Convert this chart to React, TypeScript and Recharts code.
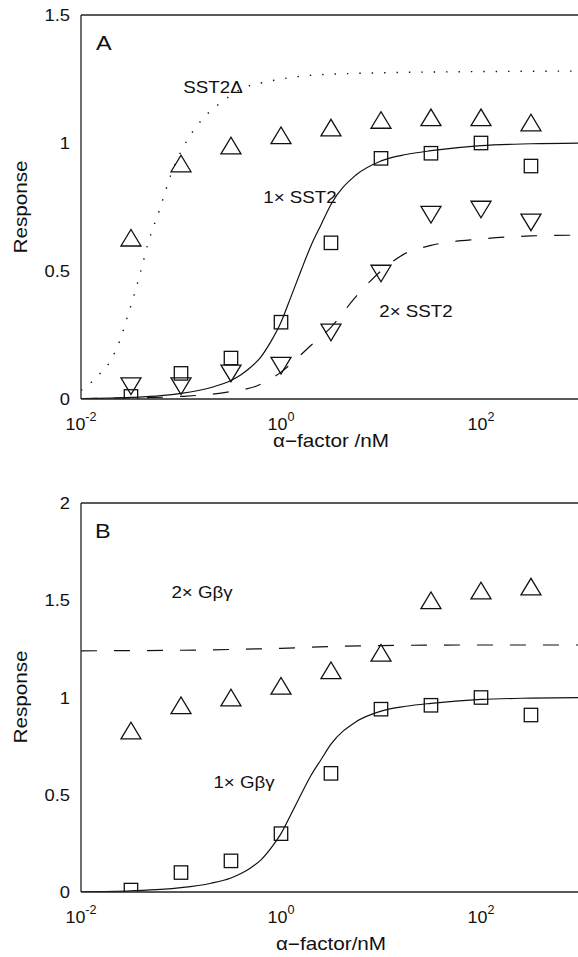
import React from 'react';
import { ComposedChart, Line, Scatter, XAxis, YAxis, Label } from 'recharts';

const FONT = "'Liberation Sans', Arial, Helvetica, sans-serif";
const INK = '#111';

// doses (nM) where responses were measured: 10^-1.5 ... 10^2.5
const doses = [0.0316, 0.1, 0.316, 1, 3.16, 10, 31.6, 100, 316];

// panel A markers
const sst2DeltaResp = [0.63, 0.92, 0.99, 1.03, 1.06, 1.09, 1.1, 1.1, 1.08];
const oneXSst2Resp = [0.01, 0.1, 0.16, 0.3, 0.61, 0.94, 0.96, 1.0, 0.91];
const twoXSst2Resp = [0.05, 0.05, 0.1, 0.13, 0.26, 0.49, 0.72, 0.74, 0.69];

// panel B markers
const oneXGbgResp = [0.01, 0.1, 0.16, 0.3, 0.61, 0.94, 0.96, 1.0, 0.91];
const twoXGbgResp = [0.83, 0.96, 1.0, 1.06, 1.14, 1.23, 1.5, 1.55, 1.57];

// fitted curves
const deltaFitX = [0.01, 0.011, 0.0138, 0.0195, 0.0245, 0.0295, 0.0347, 0.0407, 0.0468, 0.0617, 0.0813, 0.115, 0.166, 0.257, 0.417, 0.741, 1.32, 2.29, 10, 100, 1000];
const deltaFitY = [0.035, 0.042, 0.081, 0.146, 0.23, 0.328, 0.419, 0.517, 0.608, 0.745, 0.888, 1.01, 1.096, 1.161, 1.214, 1.24, 1.257, 1.266, 1.274, 1.279, 1.281];

const oneXFitX = [0.01, 0.0316, 0.0631, 0.1, 0.2, 0.316, 0.398, 0.501, 0.631, 0.794, 1, 1.26, 1.58, 2, 2.51, 3.16, 5.62, 10, 17.8, 31.6, 100, 316, 1000];
const oneXFitY = [0.001, 0.006, 0.013, 0.022, 0.045, 0.072, 0.095, 0.125, 0.165, 0.225, 0.3, 0.4, 0.5, 0.6, 0.68, 0.76, 0.875, 0.93, 0.955, 0.97, 0.99, 0.997, 1.0];

const twoXFitX = [0.01, 0.0316, 0.1, 0.316, 0.562, 1, 1.55, 2, 3.16, 5.62, 10, 17.8, 31.6, 100, 316, 1000];
const twoXFitY = [0.002, 0.004, 0.01, 0.029, 0.05, 0.105, 0.17, 0.21, 0.28, 0.4, 0.5, 0.57, 0.6, 0.625, 0.637, 0.64];

const gbgFitX = [0.01, 0.1, 0.316, 1, 3.16, 10, 100, 1000];
const gbgFitY = [1.24, 1.243, 1.247, 1.253, 1.262, 1.267, 1.27, 1.27];

const xTicks = [0.01, 1, 100];
const xInnerTicks = [1, 100];
const yTicksA = [0, 0.5, 1, 1.5];
const yTicksB = [0, 0.5, 1, 1.5, 2];

const zip = (xs: number[], ys: number[]) => xs.map((x, i) => ({ x, y: ys[i] }));

// the original type is a little wider than Arial, so text gets a horizontal stretch
function WText({ x, y, sx = 1, rotate = 0, anchor = 'start', size, children }: any) {
  return (
    <text
      transform={`translate(${x},${y}) rotate(${rotate}) scale(${sx},1)`}
      textAnchor={anchor}
      fontSize={size}
      fill={INK}
      fontFamily={FONT}
    >
      {children}
    </text>
  );
}

function PowerTick({ x, y, payload }: any) {
  const exp = Math.round(Math.log10(payload.value));
  return (
    <WText x={x} y={y + 31} sx={1.05} anchor="middle" size={17}>
      10<tspan dy={-9} fontSize={12}>{exp}</tspan>
    </WText>
  );
}

function NumTick({ x, y, payload }: any) {
  return (
    <WText x={x - 11} y={y + 6} sx={1.08} anchor="end" size={17}>
      {String(payload.value)}
    </WText>
  );
}

function Square({ cx, cy }: any) {
  const h = 6.7;
  return <rect x={cx - h} y={cy - h} width={2 * h} height={2 * h} fill="none" stroke={INK} strokeWidth={1.3} />;
}

function TriUp({ cx, cy }: any) {
  const w = 10, h = 8.3;
  return <path d={`M${cx - w},${cy + h}L${cx + w},${cy + h}L${cx},${cy - h}Z`} fill="none" stroke={INK} strokeWidth={1.3} />;
}

function TriDown({ cx, cy }: any) {
  const w = 10, h = 8.3;
  return <path d={`M${cx - w},${cy - h}L${cx + w},${cy - h}L${cx},${cy + h}Z`} fill="none" stroke={INK} strokeWidth={1.3} />;
}

const frame = { stroke: '#222', strokeWidth: 1.3 };

function Panel({ yMax, yTicks, yInner, height, top, axisH, title, titleDy, children }: any) {
  return (
    <ComposedChart width={600} height={height} margin={{ top, right: 19, bottom: 0, left: 0 }}>
      <XAxis
        type="number"
        dataKey="x"
        scale="log"
        domain={[0.01, 1000]}
        allowDataOverflow
        ticks={xTicks}
        interval={0}
        tick={<PowerTick />}
        tickLine={false}
        tickSize={0}
        tickMargin={0}
        axisLine={frame}
        height={axisH}
      >
        <Label
          content={({ viewBox }: any) => (
            <WText x={viewBox.x + viewBox.width / 2} y={viewBox.y + titleDy} sx={1.15} anchor="middle" size={18}>
              {title}
            </WText>
          )}
        />
      </XAxis>
      <XAxis xAxisId="xin" type="number" scale="log" domain={[0.01, 1000]} allowDataOverflow ticks={xInnerTicks} interval={0} mirror tick={false} tickSize={5} tickLine={frame} axisLine={false} />
      <XAxis xAxisId="xtop" orientation="top" type="number" scale="log" domain={[0.01, 1000]} allowDataOverflow ticks={xInnerTicks} interval={0} mirror tick={false} tickSize={5} tickLine={frame} axisLine={frame} />
      <YAxis
        type="number"
        dataKey="y"
        domain={[0, yMax]}
        allowDataOverflow
        ticks={yTicks}
        interval={0}
        tick={<NumTick />}
        tickLine={false}
        tickSize={0}
        tickMargin={0}
        axisLine={frame}
        width={81}
      />
      <YAxis yAxisId="yin" type="number" domain={[0, yMax]} allowDataOverflow ticks={yInner} interval={0} mirror tick={false} tickSize={5} tickLine={frame} axisLine={false} />
      <YAxis yAxisId="yright" orientation="right" type="number" domain={[0, yMax]} allowDataOverflow ticks={yInner} interval={0} mirror tick={false} tickSize={5} tickLine={frame} axisLine={frame} />
      {children}
    </ComposedChart>
  );
}

const curve = { type: 'monotone' as const, dataKey: 'y', stroke: INK, strokeWidth: 1.2, dot: false, activeDot: false, isAnimationActive: false };

export default function App() {
  return (
    <div style={{ position: 'absolute', left: 0, top: 0, width: 578, height: 957, overflow: 'hidden', background: '#fff', fontFamily: FONT }}>
      <div style={{ position: 'absolute', left: 0, top: 0 }}>
        <Panel yMax={1.5} yTicks={yTicksA} yInner={[0.5, 1]} height={470} top={15} axisH={71} title="α−factor /nM" titleDy={48}>
          <Line {...curve} data={zip(deltaFitX, deltaFitY)} strokeDasharray="1.4 11" strokeWidth={1.4} />
          <Line {...curve} data={zip(oneXFitX, oneXFitY)} />
          <Line {...curve} data={zip(twoXFitX, twoXFitY)} strokeDasharray="16 17" />
          <Scatter data={zip(doses, sst2DeltaResp)} dataKey="y" shape={(p: any) => <TriUp {...p} />} isAnimationActive={false} />
          <Scatter data={zip(doses, oneXSst2Resp)} dataKey="y" shape={(p: any) => <Square {...p} />} isAnimationActive={false} />
          <Scatter data={zip(doses, twoXSst2Resp)} dataKey="y" shape={(p: any) => <TriDown {...p} />} isAnimationActive={false} />
        </Panel>
      </div>
      <div style={{ position: 'absolute', left: 0, top: 470 }}>
        <Panel yMax={2} yTicks={yTicksB} yInner={[0.5, 1, 1.5]} height={487} top={33} axisH={65} title="α−factor/nM" titleDy={58}>
          <Line {...curve} data={zip(oneXFitX, oneXFitY)} />
          <Line {...curve} data={zip(gbgFitX, gbgFitY)} strokeDasharray="16 17" />
          <Scatter data={zip(doses, twoXGbgResp)} dataKey="y" shape={(p: any) => <TriUp {...p} />} isAnimationActive={false} />
          <Scatter data={zip(doses, oneXGbgResp)} dataKey="y" shape={(p: any) => <Square {...p} />} isAnimationActive={false} />
        </Panel>
      </div>
      <svg width={578} height={957} style={{ position: 'absolute', left: 0, top: 0, pointerEvents: 'none' }}>
        <WText x={96} y={50} sx={1.12} size={21}>A</WText>
        <WText x={95} y={538} sx={1.12} size={21}>B</WText>
        <WText x={27} y={207} rotate={-90} sx={1.15} anchor="middle" size={18}>Response</WText>
        <WText x={27} y={697} rotate={-90} sx={1.15} anchor="middle" size={18}>Response</WText>
        <WText x={213} y={93} sx={1.17} anchor="middle" size={16}>SST2Δ</WText>
        <WText x={300} y={203} sx={1.17} anchor="middle" size={16}>1× SST2</WText>
        <WText x={416} y={317} sx={1.17} anchor="middle" size={16}>2× SST2</WText>
        <WText x={202} y={598} sx={1.17} anchor="middle" size={16}>2× Gβγ</WText>
        <WText x={244} y={788} sx={1.17} anchor="middle" size={16}>1× Gβγ</WText>
      </svg>
    </div>
  );
}
